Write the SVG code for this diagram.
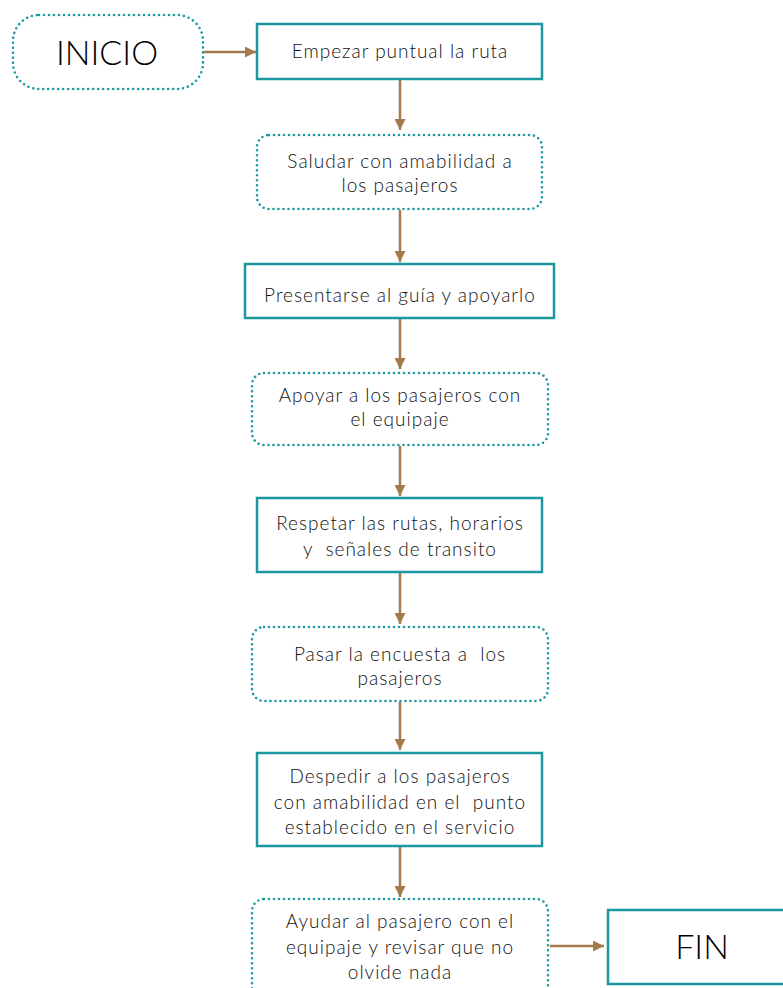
<svg xmlns="http://www.w3.org/2000/svg" width="783" height="988" viewBox="0 0 783 988">
<defs>
<marker id="ah" viewBox="0 0 10 10" refX="10" refY="5" markerWidth="11" markerHeight="11" markerUnits="userSpaceOnUse" orient="auto"><path d="M0,0 L10,5 L0,10 Z" fill="#a47a4c"/></marker>
<style>
.solid{fill:#fff;stroke:#1b98a0;stroke-width:2.5}
.dot{fill:#fff;stroke:#1b98a0;stroke-width:2.6;stroke-dasharray:0 5;stroke-linecap:round}
.t{font-family:"Lato","Noto Sans","Liberation Sans",sans-serif;font-weight:300;font-size:19px;letter-spacing:1px;fill:#111;text-anchor:middle}
.big{font-family:"Lato","Noto Sans","Liberation Sans",sans-serif;font-weight:300;font-size:34px;fill:#000;text-anchor:middle}
.c{stroke:#a47a4c;stroke-width:2.5;fill:none;marker-end:url(#ah)}
</style>
</defs>
<rect width="783" height="988" fill="#fff"/>
<g id="connectors">
<line class="c" x1="204" y1="52" x2="256" y2="52"/>
<line class="c" x1="400" y1="80" x2="400" y2="130"/>
<line class="c" x1="400" y1="210" x2="400" y2="262"/>
<line class="c" x1="400" y1="319" x2="400" y2="369"/>
<line class="c" x1="400" y1="446" x2="400" y2="496"/>
<line class="c" x1="400" y1="573" x2="400" y2="624"/>
<line class="c" x1="400" y1="702" x2="400" y2="750"/>
<line class="c" x1="400" y1="847" x2="400" y2="897"/>
<line class="c" x1="550" y1="946" x2="604" y2="946"/>
</g>
<g id="inicio">
<rect class="dot" x="13" y="15" width="190" height="74" rx="26"/>
<text class="big" x="107" y="65">INICIO</text>
</g>
<g id="n1">
<rect class="solid" x="257" y="24" width="285" height="55"/>
<text class="t" x="400" y="58">Empezar puntual la ruta</text>
</g>
<g id="n2">
<rect class="dot" x="257" y="135" width="285" height="74" rx="12"/>
<text class="t" x="400" y="168">Saludar con amabilidad a</text>
<text class="t" x="400" y="192">los pasajeros</text>
</g>
<g id="n3">
<rect class="solid" x="245" y="264" width="309" height="54"/>
<text class="t" x="400" y="302">Presentarse al guía y apoyarlo</text>
</g>
<g id="n4">
<rect class="dot" x="252" y="373" width="296" height="72" rx="12"/>
<text class="t" x="400" y="402">Apoyar a los pasajeros con</text>
<text class="t" x="400" y="426">el equipaje</text>
</g>
<g id="n5">
<rect class="solid" x="257" y="498" width="285" height="74"/>
<text class="t" x="400" y="530">Respetar las rutas, horarios</text>
<text class="t" x="400" y="556" xml:space="preserve">y  señales de transito</text>
</g>
<g id="n6">
<rect class="dot" x="252" y="627" width="296" height="74" rx="12"/>
<text class="t" x="400" y="661" xml:space="preserve">Pasar la encuesta a  los</text>
<text class="t" x="400" y="685">pasajeros</text>
</g>
<g id="n7">
<rect class="solid" x="257" y="753" width="285" height="93"/>
<text class="t" x="400" y="783">Despedir a los pasajeros</text>
<text class="t" x="400" y="809" xml:space="preserve">con amabilidad en el  punto</text>
<text class="t" x="400" y="834">establecido en el servicio</text>
</g>
<g id="n8">
<rect class="dot" x="252" y="899" width="296" height="110" rx="12"/>
<text class="t" x="400" y="928">Ayudar al pasajero con el</text>
<text class="t" x="400" y="954">equipaje y revisar que no</text>
<text class="t" x="400" y="979">olvide nada</text>
</g>
<g id="fin">
<rect class="solid" x="608" y="910" width="180" height="74"/>
<text class="big" x="702" y="959">FIN</text>
</g>
</svg>
